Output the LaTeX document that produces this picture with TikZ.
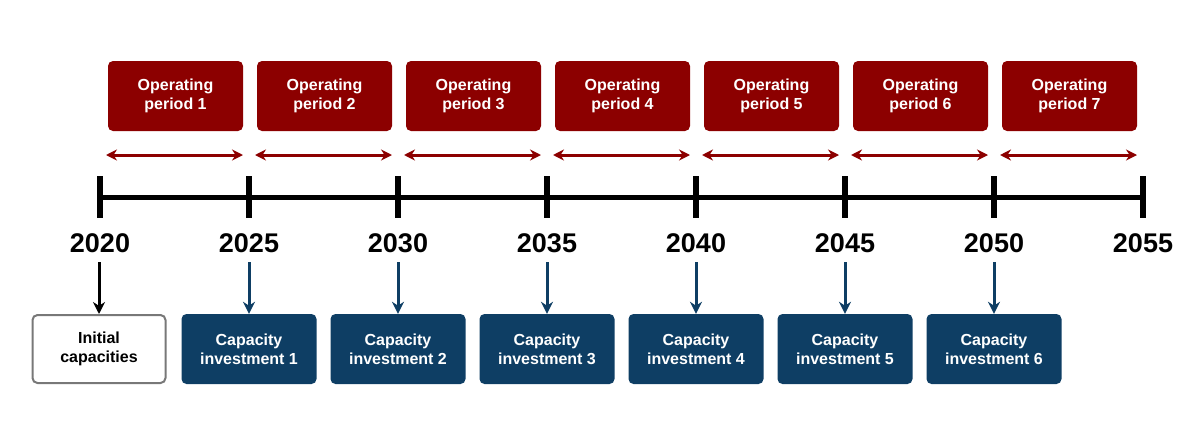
\documentclass[tikz,border=0pt]{standalone}
\usepackage{fontspec}
\setmainfont{Liberation Sans}
\usetikzlibrary{arrows.meta}
\definecolor{opred}{RGB}{140,0,0}
\definecolor{capblue}{RGB}{14,62,100}
\definecolor{initgray}{RGB}{120,120,120}
\tikzset{
  opbox/.style={fill=opred,rounded corners=5pt,minimum width=135pt,minimum height=70pt,text=white,font=\fontsize{16}{19}\selectfont\bfseries,align=center,inner sep=0pt},
  capbox/.style={fill=capblue,rounded corners=5pt,minimum width=135pt,minimum height=70pt,text=white,font=\fontsize{16}{19}\selectfont\bfseries,align=center,inner sep=0pt},
  initbox/.style={draw=initgray,line width=2pt,fill=white,rounded corners=5pt,minimum width=133pt,minimum height=68pt,font=\fontsize{16}{19}\selectfont\bfseries,align=center,inner sep=0pt},
  yearlbl/.style={font=\fontsize{27}{30}\selectfont\bfseries,inner sep=0pt},
  tickmark/.style={line width=6pt},
  period/.style={opred,line width=3pt,{Stealth[length=11pt,width=11pt]}-{Stealth[length=11pt,width=11pt]}},
  downarr/.style={line width=3pt,-{Stealth[length=12pt,width=12pt]}}
}
\begin{document}
\begin{tikzpicture}[x=1pt,y=-1pt]
\useasboundingbox (0,0) rectangle (1200,442);
\coordinate (tlstart) at (100,197);
\coordinate (tlend) at (1143,197);
\draw[line width=5pt] (tlstart) -- (tlend);
\foreach \i/\yr in {0/2020,1/2025,2/2030,3/2035,4/2040,5/2045,6/2050,7/2055}{
  \pgfmathsetmacro{\xx}{100+149*\i}
  \coordinate (tt\i) at (\xx,176);
  \coordinate (tb\i) at (\xx,218);
  \draw[tickmark] (tt\i) -- (tb\i);
  \node[yearlbl] (y\i) at (\xx,243) {\yr};
}
\foreach \i in {1,...,7}{
  \pgfmathsetmacro{\xx}{100+149*(\i-1)}
  \pgfmathsetmacro{\cx}{\xx+75.5}
  \node[opbox] (op\i) at (\cx,96) {Operating\\period \i};
  \coordinate (pa\i) at (\xx+6,155);
  \coordinate (pb\i) at (\xx+143,155);
  \draw[period] (pa\i) -- (pb\i);
}
\node[initbox] (init) at (99,349) {Initial\\capacities};
\coordinate (da0) at (99,262);
\draw[downarr,black] (da0) -- (init.north);
\foreach \i in {1,...,6}{
  \pgfmathsetmacro{\xx}{100+149*\i}
  \node[capbox] (cap\i) at (\xx,349) {Capacity\\investment \i};
  \coordinate (da\i) at (\xx,262);
  \draw[downarr,capblue] (da\i) -- (cap\i.north);
}
\end{tikzpicture}
\end{document}
